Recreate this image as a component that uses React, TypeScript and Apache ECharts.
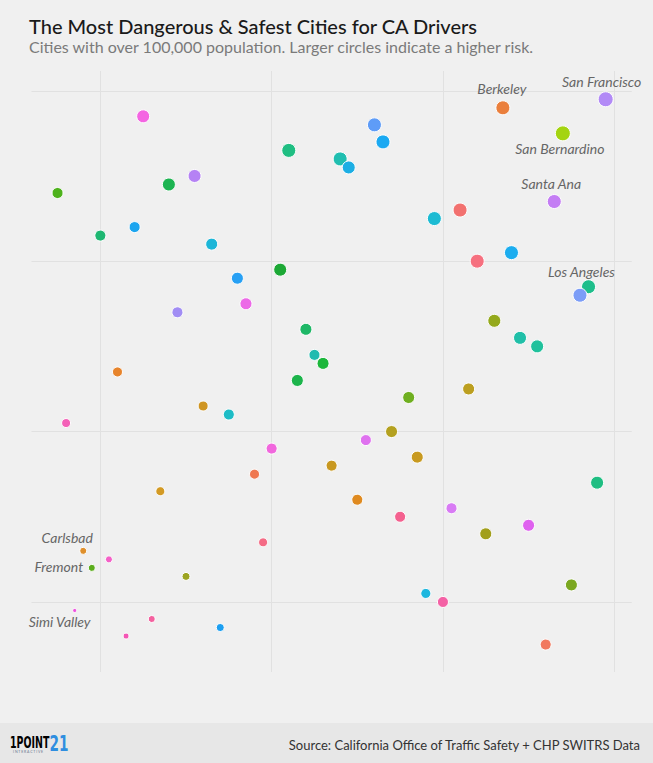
import React, { useEffect, useRef } from "react";
import * as echarts from "echarts";

// Position scores of each city (x: first score, y: second score)
const cityX = [
  39.5, 33.5, 37, 36.5, 31, 34, 32, 38.5, 38, 26, 26.5, 24, 24.5, 29.5, 12.5, 21,
  15.5, 14, 7.5, 12, 10, 16.5, 20.5, 18, 18.5, 14.5, 22, 22.5, 23, 21.5, 11, 16,
  17.5, 8, 20, 19, 13.5, 33, 34.5, 35.5, 31.5, 28, 27, 25.5, 28.5, 23.5, 39, 25,
  27.5, 30.5, 19.5, 32.5, 35, 37.5, 29, 30, 36, 9, 10.5, 9.5, 15, 8.5, 13, 11.5, 17,
];
const cityY = [
  39.5, 39, 37.5, 33.5, 33, 30.5, 30, 28.5, 28, 38, 37, 36, 35.5, 32.5, 38.5, 36.5,
  35, 34.5, 34, 32, 31.5, 31, 29.5, 29, 27.5, 27, 26, 24.5, 24, 23, 23.5, 21.5,
  21, 20.5, 19, 17.5, 16.5, 26.5, 25.5, 25, 22.5, 22, 20, 19.5, 18.5, 18, 17, 16,
  15, 15.5, 13.5, 14, 14.5, 11, 10.5, 10, 7.5, 13, 12.5, 12, 11.5, 9.5, 9, 8, 8.5,
];
// Circle size (risk)
const cityRisk = [
  15, 14, 15, 14, 14, 14, 14, 14, 14, 14, 14, 14, 13, 14, 13, 14,
  13, 13, 11, 11, 11, 12, 13, 12, 12, 11, 12, 11, 12, 12, 10, 10,
  11, 9, 11, 10, 9, 13, 13, 13, 12, 12, 12, 11, 12, 11, 13, 11,
  11, 11, 9, 12, 12, 12, 10, 11, 11, 7, 7, 7, 8, 4, 7, 6, 8,
];
const cityColors = [
  "#B28AF6", "#EA7F3C", "#A4D411", "#C47DF4", "#F2716F", "#1CADEF", "#F6707F", "#1EBE8B",
  "#7C9DF7", "#5E9CF7", "#1AA9F2", "#20BEB0", "#1CAEE4", "#1CBBD3", "#F465E2", "#1FBE82",
  "#B582F4", "#1CB451", "#4EB21C", "#1CA5EF", "#1EB772", "#1CB6D8", "#1CA835", "#27A0F4",
  "#EC69E7", "#A18DF4", "#1EB766", "#20BBB0", "#1CB73B", "#1CB44B", "#E7842C", "#CF9522",
  "#1DBCC6", "#F461B8", "#F167DD", "#EF7851", "#D39A24", "#94A91C", "#20BFA8", "#20C19C",
  "#BC9F20", "#6FAF20", "#B4A120", "#DF71EF", "#C89A20", "#C89820", "#1FBE82", "#DF8A20",
  "#F4618F", "#D87BF4", "#F46B85", "#A29F1C", "#DF61EF", "#7BA720", "#1CB7DF", "#F461A5",
  "#F1795F", "#DF902C", "#F461C7", "#5BAD1C", "#9CA420", "#EF52DF", "#F4619F", "#F456B5",
  "#1C9FF1",
];
const cityNames = [
  "San Francisco", "Berkeley", "San Bernardino", "Santa Ana", "", "", "", "Los Angeles",
  "", "", "", "", "", "", "", "", "", "", "", "", "", "", "", "", "", "", "", "", "", "",
  "", "", "", "", "", "", "", "", "", "", "", "", "", "", "", "", "", "", "", "", "", "",
  "", "", "", "", "", "Carlsbad", "", "Fremont", "", "Simi Valley", "", "", "",
];
const gridTicks = [10, 20, 30, 40];

const labelOffsets: Record<string, number[]> = {
  "San Francisco": [-4, -17.5],
  Berkeley: [-1, -19],
  "San Bernardino": [-3, 15.5],
  "Santa Ana": [-3, -18.5],
  "Los Angeles": [-7, -15],
  Carlsbad: [-16, -13],
  Fremont: [-33, -1.5],
  "Simi Valley": [-15, 11],
};

const LOGO_FONT = "'Liberation Sans Narrow', 'DejaVu Sans Condensed', sans-serif";

export default function App() {
  const ref = useRef<HTMLDivElement>(null);
  useEffect(() => {
    if (!ref.current) return;
    const chart = echarts.init(ref.current, undefined, { renderer: "svg" });
    const data = cityX.map((x, i) => {
      const name = cityNames[i];
      const item: any = {
        value: [x, cityY[i]],
        name,
        symbolSize: cityRisk[i],
        itemStyle: { color: cityColors[i] },
      };
      if (name) {
        item.label = {
          show: true,
          position: "inside",
          offset: labelOffsets[name],
          formatter: name,
          fontFamily: "Lato",
          fontStyle: "italic",
          fontSize: 14,
          color: "#666666",
        };
      }
      return item;
    });
    const axisCommon = {
      type: "value" as const,
      splitNumber: 4,
      axisLine: { show: false },
      axisTick: { show: false },
      axisLabel: { show: false },
      splitLine: {
        show: true,
        showMinLine: false,
        showMaxLine: false,
        lineStyle: { color: "#e1e1e1", width: 1 },
      },
    };
    chart.setOption({
      animation: false,
      backgroundColor: "#f0f0f0",
      grid: { left: 31.5, right: 21.3, top: 71, bottom: 91 },
      xAxis: { ...axisCommon, min: gridTicks[0] - 4.02, max: gridTicks[3] + 1.02 },
      yAxis: { ...axisCommon, min: gridTicks[0] - 4.11, max: gridTicks[3] + 1.16 },
      series: [
        {
          type: "scatter",
          data,
          itemStyle: { borderColor: "#ffffff", borderWidth: 1, opacity: 1 },
          label: { show: false },
        },
      ],
      graphic: [
        {
          type: "text",
          left: 29,
          top: 16,
          style: {
            text: "The Most Dangerous & Safest Cities for CA Drivers",
            fontFamily: "Lato",
            fontSize: 20,
            fontWeight: 500,
            fill: "#1a1a1a",
          },
        },
        {
          type: "text",
          left: 29,
          top: 38,
          style: {
            text: "Cities with over 100,000 population. Larger circles indicate a higher risk.",
            fontFamily: "Lato",
            fontSize: 16,
            fill: "#7a7a7a",
          },
        },
        {
          type: "rect",
          shape: { x: 0, y: 723, width: 653, height: 40 },
          style: { fill: "#e7e7e7" },
          z: 0,
        },
        {
          type: "text",
          x: 640,
          y: 745,
          style: {
            text: "Source: California Office of Traffic Safety + CHP SWITRS Data",
            fontFamily: "Lato",
            fontSize: 13,
            fill: "#333333",
            align: "right",
            verticalAlign: "middle",
          },
        },
        {
          type: "text",
          x: 10,
          y: 742.5,
          scaleX: 0.7,
          style: {
            text: "{a|1}{b|POINT}",
            verticalAlign: "middle",
            rich: {
              a: { fontFamily: LOGO_FONT, fontWeight: "bold", fontSize: 15, lineHeight: 12, color: "#2f8ee0" },
              b: { fontFamily: LOGO_FONT, fontWeight: "bold", fontSize: 15, lineHeight: 12, color: "#1f2d45" },
            },
          },
        },
        {
          type: "text",
          x: 49.5,
          y: 743.3,
          scaleX: 0.72,
          style: {
            text: "21",
            fontFamily: LOGO_FONT,
            fontWeight: "bold",
            fontSize: 21,
            lineHeight: 16,
            fill: "#2f8ee0",
            verticalAlign: "middle",
          },
        },
        {
          type: "text",
          x: 13,
          y: 751.5,
          style: {
            text: "I N T E R A C T I V E",
            fontFamily: "Lato",
            fontSize: 3.5,
            lineHeight: 4,
            fill: "#6a7890",
            verticalAlign: "middle",
          },
        },
      ],
    });
    return () => chart.dispose();
  }, []);
  return (
    <div
      ref={ref}
      style={{ position: "fixed", left: 0, top: 0, width: 653, height: 763 }}
    />
  );
}
